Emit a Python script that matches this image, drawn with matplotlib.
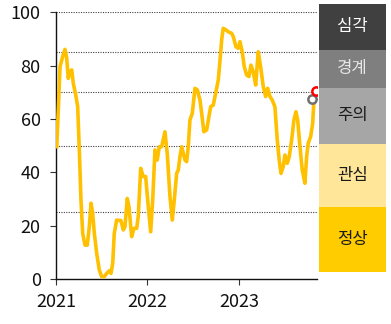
import matplotlib
matplotlib.use("Agg")
import matplotlib.pyplot as plt
import matplotlib.transforms as mtransforms
from matplotlib.patches import Rectangle

plt.rcParams['font.family'] = ['Noto Sans CJK KR', 'DejaVu Sans']

# time in decimal years, index values
years = [2021.008, 2021.025, 2021.044, 2021.073, 2021.098, 2021.117, 2021.134, 2021.153,
         2021.172, 2021.189, 2021.219, 2021.237, 2021.255, 2021.273, 2021.292, 2021.317,
         2021.342, 2021.364, 2021.383, 2021.401, 2021.419, 2021.445, 2021.473, 2021.499,
         2021.528, 2021.554, 2021.583, 2021.601, 2021.620, 2021.637, 2021.663, 2021.681,
         2021.710, 2021.736, 2021.754, 2021.779, 2021.798, 2021.827, 2021.852, 2021.882,
         2021.899, 2021.926, 2021.954, 2021.980, 2022.009, 2022.035, 2022.057, 2022.082,
         2022.107, 2022.129, 2022.155, 2022.191, 2022.216, 2022.246, 2022.271, 2022.293,
         2022.319, 2022.337, 2022.355, 2022.374, 2022.410, 2022.428, 2022.446, 2022.464,
         2022.490, 2022.519, 2022.545, 2022.574, 2022.592, 2022.617, 2022.647, 2022.672,
         2022.691, 2022.719, 2022.745, 2022.774, 2022.792, 2022.811, 2022.828, 2022.858,
         2022.883, 2022.920, 2022.938, 2022.967, 2022.992, 2023.011, 2023.036, 2023.058,
         2023.084, 2023.109, 2023.131, 2023.156, 2023.183, 2023.211, 2023.237, 2023.266,
         2023.292, 2023.314, 2023.339, 2023.364, 2023.393, 2023.419, 2023.440, 2023.459,
         2023.484, 2023.503, 2023.528, 2023.550, 2023.576, 2023.601, 2023.623, 2023.642,
         2023.667, 2023.692, 2023.721, 2023.740, 2023.757, 2023.784, 2023.806, 2023.820,
         2023.847]
values = [49.6, 63.4, 79.6, 83.4, 86.1, 82.8, 75.2, 77.7,
          78.4, 73.4, 68.4, 64.6, 48.4, 29.6, 17.1, 12.7,
          12.7, 19.6, 28.4, 24.6, 17.1, 9.6, 3.4, 0.9,
          0.9, 2.1, 3.1, 2.1, 5.9, 17.1, 22.1, 22.0,
          21.9, 18.4, 19.6, 30.2, 27.1, 15.9, 19.0, 19.0,
          23.4, 41.5, 38.4, 38.4, 27.1, 17.7, 29.6, 48.4,
          44.6, 49.6, 49.6, 55.2, 47.1, 30.9, 22.1, 29.6,
          39.6, 40.9, 45.9, 49.6, 44.6, 44.0, 49.6, 59.6,
          62.1, 71.5, 70.9, 67.1, 62.2, 55.2, 55.9, 60.9,
          64.6, 65.2, 69.6, 74.6, 81.5, 89.6, 94.0, 93.4,
          92.7, 92.1, 90.9, 87.1, 86.5, 89.0, 85.2, 79.6,
          76.5, 75.9, 80.2, 77.7, 72.7, 85.2, 79.6, 72.1,
          68.4, 71.5, 68.4, 67.1, 64.6, 52.1, 44.6, 39.6,
          42.1, 46.5, 43.4, 45.9, 52.1, 59.6, 62.7, 59.6,
          49.6, 40.9, 35.9, 45.9, 50.9, 53.4, 58.4, 67.1,
          70.5]

prev_point = (2023.803, 67.4)
last_point = (2023.847, 70.5)

x_ticks = [2021, 2022, 2023]
x_labels = ['2021', '2022', '2023']
y_ticks = [0, 20, 40, 60, 80, 100]
grid_levels = [25, 50, 70, 85, 100]

zone_names = ['심각', '경계', '주의', '관심', '정상']
zone_bounds = [(85.9, 103.1), (71.7, 85.9), (50.6, 71.7), (27.1, 50.6), (2.7, 27.1)]
zone_colors = ['#404040', '#7f7f7f', '#a6a6a6', '#ffe699', '#ffcc00']
zone_text_colors = ['white', '#e8e8e8', '#1a1a1a', '#1a1a1a', '#1a1a1a']

fig = plt.figure(figsize=(3.91, 3.24), dpi=100)
ax = fig.add_axes([56/391, 1-279/324, (316.7-56)/391, (279-12.3)/324])

for g in grid_levels:
    ax.axhline(g, color='#404040', linestyle=(0, (1, 1.2)), linewidth=0.8, zorder=1)

ax.plot(years, values, color='#ffc000', linewidth=2.6, solid_joinstyle='round', zorder=3)
ax.plot(*prev_point, marker='o', markersize=6, markerfacecolor='white',
        markeredgecolor='#707070', markeredgewidth=1.8, zorder=4)
ax.plot(*last_point, marker='o', markersize=6, markerfacecolor='white',
        markeredgecolor='#ff0000', markeredgewidth=1.8, zorder=5)

ax.set_xlim(2021, 2023.85)
ax.set_ylim(0, 100)
ax.set_xticks(x_ticks)
ax.set_xticklabels(x_labels)
ax.set_yticks(y_ticks)
ax.tick_params(axis='both', labelsize=13, color='#333333', length=4, width=0.8, labelcolor='#111111')
ax.tick_params(axis='x', pad=6)
ax.tick_params(axis='y', pad=7)
for s in ['top', 'right']:
    ax.spines[s].set_visible(False)
ax.spines['left'].set_color('#111111')
ax.spines['bottom'].set_color('#111111')
ax.spines['left'].set_linewidth(1.0)
ax.spines['bottom'].set_linewidth(1.0)

trans = mtransforms.blended_transform_factory(ax.transAxes, ax.transData)
x0 = (319 - 56) / 260.7
w = (385.7 - 319) / 260.7
for name, (lo, hi), c, tc in zip(zone_names, zone_bounds, zone_colors, zone_text_colors):
    ax.add_patch(Rectangle((x0, lo), w, hi - lo, transform=trans, facecolor=c,
                           edgecolor='none', clip_on=False, zorder=2))
    ax.text(x0 + w / 2, (lo + hi) / 2, name, transform=trans, ha='center', va='center',
            fontsize=12, color=tc, clip_on=False)

fig.savefig('out.png', dpi=100)
